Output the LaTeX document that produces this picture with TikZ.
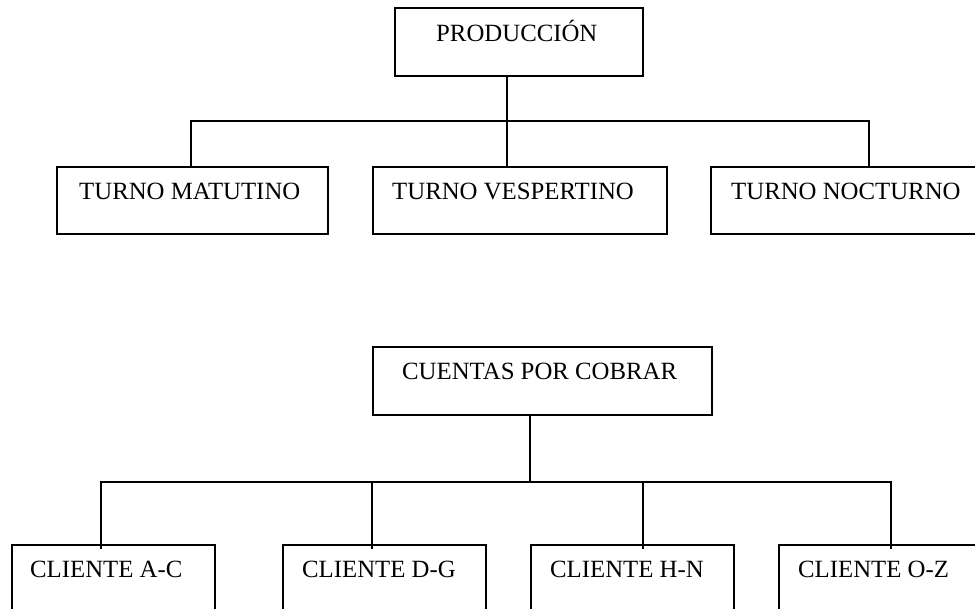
\documentclass[tikz,border=0pt]{standalone}
\usepackage{fontspec}
\setmainfont{Liberation Serif}
\begin{document}
\begin{tikzpicture}[x=1pt,y=-1pt,
  box/.style={draw=black,line width=1.7pt,fill=none,inner sep=0pt,anchor=north west},
  lbl/.style={inner sep=0pt,anchor=base west,font=\fontsize{24.8}{30}\selectfont},
  conn/.style={draw=black,line width=1.7pt}]
\useasboundingbox (0,0) rectangle (975,609);
\clip (0,0) rectangle (975,609);
% top chart
\node[box,minimum width=248pt,minimum height=68pt] (prod) at (394,7) {};
\node[lbl] (prodt) at ([xshift=42pt,yshift=-35pt]prod.north west) {PRODUCCIÓN};
\node[box,minimum width=271pt,minimum height=67pt] (mat) at (56,166) {};
\node[lbl] (matt) at ([xshift=23pt,yshift=-34pt]mat.north west) {TURNO MATUTINO};
\node[box,minimum width=294pt,minimum height=67pt] (ves) at (372,166) {};
\node[lbl] (vest) at ([xshift=20pt,yshift=-34pt]ves.north west) {TURNO VESPERTINO};
\node[box,minimum width=290pt,minimum height=67pt] (noc) at (710,166) {};
\node[lbl] (noct) at ([xshift=21pt,yshift=-34pt]noc.north west) {TURNO NOCTURNO};
\coordinate (jl) at (191,121);
\coordinate (jm) at (507,121);
\coordinate (jr) at (869,121);
\draw[conn] (prod.south -| jm) -- (ves.north -| jm);
\draw[conn] (mat.north -| jl) -- (jl) -- (jr) -- (noc.north -| jr);
% bottom chart
\node[box,minimum width=339pt,minimum height=68pt] (cxc) at (372,346) {};
\node[lbl] (cxct) at ([xshift=30pt,yshift=-34pt]cxc.north west) {CUENTAS POR COBRAR};
\node[box,minimum width=203pt,minimum height=110pt] (ac) at (11,544) {};
\node[lbl] (act) at ([xshift=19pt,yshift=-33pt]ac.north west) {CLIENTE A-C};
\node[box,minimum width=203pt,minimum height=110pt] (dg) at (282,544) {};
\node[lbl] (dgt) at ([xshift=20pt,yshift=-33pt]dg.north west) {CLIENTE D-G};
\node[box,minimum width=203pt,minimum height=110pt] (hn) at (530,544) {};
\node[lbl] (hnt) at ([xshift=20pt,yshift=-33pt]hn.north west) {CLIENTE H-N};
\node[box,minimum width=203pt,minimum height=110pt] (oz) at (778,544) {};
\node[lbl] (ozt) at ([xshift=20pt,yshift=-33pt]oz.north west) {CLIENTE O-Z};
\coordinate (kl) at (101,482);
\coordinate (kd) at (372,482);
\coordinate (km) at (530,482);
\coordinate (kh) at (643,482);
\coordinate (kr) at (891,482);
\draw[conn] (cxc.south -| km) -- (km);
\draw[conn] ([yshift=-5pt]ac.north -| kl) -- (kl) -- (kr) -- ([yshift=-5pt]oz.north -| kr);
\draw[conn] (kd) -- ([yshift=-5pt]dg.north -| kd);
\draw[conn] (kh) -- ([yshift=-5pt]hn.north -| kh);
\end{tikzpicture}
\end{document}
